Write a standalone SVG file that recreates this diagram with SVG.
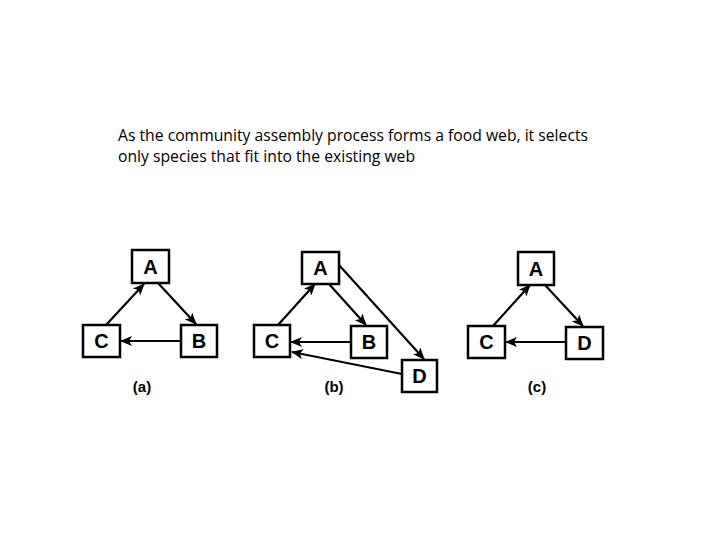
<svg xmlns="http://www.w3.org/2000/svg" width="720" height="540" viewBox="0 0 720 540">
<style>
.t{font-family:"Open Sans","Liberation Sans",sans-serif;font-size:16px;fill:#000}
.box rect{fill:#fff;stroke:#000;stroke-width:2.5}
.box text{font-family:"Liberation Sans",Arial,sans-serif;font-weight:bold;font-size:20px;text-anchor:middle;fill:#000}
.lab{font-family:"Liberation Sans",Arial,sans-serif;font-weight:bold;font-size:15px;text-anchor:middle;fill:#000}
.edges line{stroke:#000;stroke-width:2.2;marker-end:url(#ah)}
</style>
<defs>
<marker id="ah" markerWidth="12" markerHeight="10" refX="11" refY="5" orient="auto" markerUnits="userSpaceOnUse">
<path d="M0,0 L12,5 L0,10 L3,5 Z" fill="#000"/>
</marker>
</defs>
<rect width="720" height="540" fill="#fff"/>
<text class="t" x="118" y="141" textLength="470" lengthAdjust="spacingAndGlyphs">As the community assembly process forms a food web, it selects</text>
<text class="t" x="118" y="162" textLength="297" lengthAdjust="spacingAndGlyphs">only species that fit into the existing web</text>

<g class="edges">
<line x1="106" y1="325" x2="144" y2="284"/>
<line x1="158" y1="283" x2="196" y2="324"/>
<line x1="181" y1="341" x2="121" y2="341"/>
<line x1="278" y1="325" x2="315" y2="284"/>
<line x1="329" y1="284" x2="366" y2="325"/>
<line x1="339" y1="265" x2="424" y2="359"/>
<line x1="351" y1="342" x2="291" y2="342"/>
<line x1="402" y1="374" x2="292" y2="352"/>
<line x1="493" y1="326" x2="530" y2="285"/>
<line x1="545" y1="285" x2="583" y2="326"/>
<line x1="566" y1="342" x2="506" y2="342"/>
</g>

<g id="a-A" class="box"><rect x="132" y="250" width="37" height="33"/><text x="150.5" y="274">A</text></g>
<g id="a-C" class="box"><rect x="83" y="325" width="37" height="32"/><text x="101.5" y="348">C</text></g>
<g id="a-B" class="box"><rect x="181" y="325" width="36" height="32"/><text x="199" y="348">B</text></g>
<text class="lab" x="142" y="392">(a)</text>

<g id="b-A" class="box"><rect x="302" y="252" width="37" height="32"/><text x="320.5" y="275">A</text></g>
<g id="b-C" class="box"><rect x="254" y="325" width="36" height="32"/><text x="272" y="348">C</text></g>
<g id="b-B" class="box"><rect x="351" y="326" width="36" height="32"/><text x="369" y="349">B</text></g>
<g id="b-D" class="box"><rect x="402" y="360" width="35" height="32"/><text x="419.5" y="383">D</text></g>
<text class="lab" x="334" y="392">(b)</text>

<g id="c-A" class="box"><rect x="518" y="252" width="36" height="33"/><text x="536" y="276">A</text></g>
<g id="c-C" class="box"><rect x="468" y="326" width="37" height="32"/><text x="486.5" y="349">C</text></g>
<g id="c-D" class="box"><rect x="566" y="327" width="37" height="32"/><text x="584.5" y="350">D</text></g>
<text class="lab" x="537" y="392">(c)</text>
</svg>
